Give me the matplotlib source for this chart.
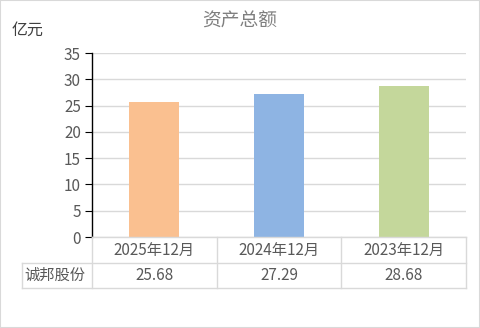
import matplotlib
matplotlib.use("Agg")
import matplotlib.pyplot as plt
from matplotlib.lines import Line2D

plt.rcParams['font.family'] = ['Noto Sans CJK SC', 'DejaVu Sans']

categories = ["2025年12月", "2024年12月", "2023年12月"]
values = [25.68, 27.29, 28.68]
series_name = "诚邦股份"
colors = ["#FAC090", "#8EB4E3", "#C4D79B"]
yticks = [0, 5, 10, 15, 20, 25, 30, 35]

W, H = 480, 328
fig = plt.figure(figsize=(W / 100, H / 100), dpi=100)


def fx(px):
    return px / W


def fy(py):
    return 1 - py / H


left, right, top, bottom = 92, 466, 53, 237
ax = fig.add_axes([fx(left), fy(bottom), fx(right - left), fy(top) - fy(bottom)])

x = range(len(categories))
ax.bar(x, values, width=0.4, color=colors, zorder=3)
ax.set_xlim(-0.5, len(categories) - 0.5)
ax.set_ylim(0, 35)
ax.set_yticks(yticks)
ax.set_xticks([])
ax.grid(axis="y", color="#D9D9D9", linewidth=1, zorder=0)
for s in ["top", "right", "bottom"]:
    ax.spines[s].set_visible(False)
ax.spines["left"].set_color("black")
ax.spines["left"].set_linewidth(1)
ax.tick_params(axis="y", direction="out", length=5, color="black",
               labelsize=11, labelcolor="#595959", pad=3)

# table under the plot
grey = "#D9D9D9"
row1, row2 = 263, 288
lab_left = 22
cell_w = (right - left) / len(categories)
lines = [
    ((left, right), (bottom, bottom)),
    ((lab_left, right), (row1, row1)),
    ((lab_left, right), (row2, row2)),
    ((lab_left, lab_left), (row1, row2)),
]
for i in range(len(categories) + 1):
    xx = left + i * cell_w
    lines.append(((xx, xx), (bottom, row2)))
for (xs, ys) in lines:
    fig.add_artist(Line2D([fx(v) for v in xs], [fy(v) for v in ys],
                          color=grey, linewidth=1))

for i, (c, v) in enumerate(zip(categories, values)):
    cx = left + (i + 0.5) * cell_w
    fig.text(fx(cx), fy((bottom + row1) / 2), c, ha="center", va="center",
             fontsize=11, color="#595959")
    fig.text(fx(cx), fy((row1 + row2) / 2), f"{v:.2f}", ha="center", va="center",
             fontsize=11, color="#595959")
fig.text(fx(lab_left + 2), fy((row1 + row2) / 2), series_name, ha="left", va="center",
         fontsize=11, color="#595959")

fig.text(fx(240), fy(21), "资产总额", ha="center", va="center", fontsize=13.5, color="#7F7F7F")
fig.text(fx(12), fy(30), "亿元", ha="left", va="center", fontsize=11.5, color="#404040")

# outer frame
fig.add_artist(plt.Rectangle((0, 0), 1, 1, transform=fig.transFigure, fill=False,
                             edgecolor="#D9D9D9", linewidth=1.5))

fig.savefig("out.png", dpi=100)
